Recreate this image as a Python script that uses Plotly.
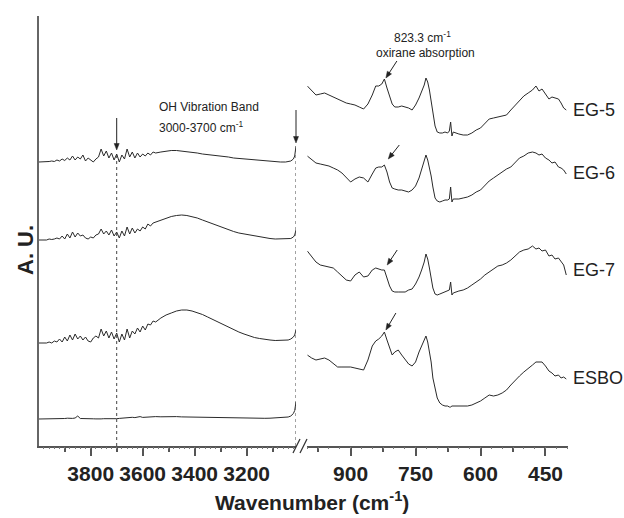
import math
import plotly.graph_objects as go

# ---------------- data ----------------
wn_left = [4000, 3990, 3980, 3970, 3960, 3950, 3940, 3930, 3920, 3910,
           3900, 3890, 3880, 3870, 3860, 3850, 3840, 3830, 3820, 3810,
           3800, 3790, 3780, 3770, 3760, 3750, 3740, 3730, 3720, 3710,
           3700, 3690, 3680, 3670, 3660, 3650, 3640, 3630, 3620, 3610,
           3600, 3590, 3580, 3570, 3560, 3550,
           3530, 3510, 3490, 3470, 3450, 3430, 3410, 3390, 3370, 3350,
           3330, 3310, 3290, 3270, 3250, 3230, 3210, 3190, 3170, 3150,
           3130, 3110, 3090, 3070, 3050, 3040, 3030, 3020, 3015, 3010]

eg5_left = [284, 284, 284.5, 284, 284.5, 285, 284.5, 286, 285, 287,
            285.5, 288, 286, 290, 286, 289, 287, 291, 285, 288,
            286, 284, 287, 289, 297, 290, 295, 288, 293, 286,
            292, 284, 291, 287, 297, 289, 294, 288, 293, 289,
            292, 290, 293, 291, 294, 293,
            294, 295, 295.5, 295.5, 295, 294.5, 294, 293, 292, 291.5,
            291, 290, 289.5, 289, 288, 287.5, 287, 286.5, 286, 285.5,
            285, 284.5, 284.5, 284, 284, 284.5, 285, 287, 290, 300]

eg6_left = [206, 206, 206.5, 206, 207, 206.5, 207, 208, 207, 210,
            207, 212, 208, 214, 209, 213, 210, 211, 208, 207,
            209, 208, 211, 212, 217, 212, 215, 211, 216, 210,
            214, 208, 215, 210, 219, 212, 218, 213, 217, 215,
            219, 217, 222, 220, 223, 224,
            226, 228, 229.5, 230.5, 231, 230.5, 229.5, 228, 226, 224,
            222, 220, 218, 216, 214.5, 213, 212, 211, 210, 209,
            208, 207.5, 207, 207, 207, 207, 207.5, 209, 211, 216]

eg7_left = [103, 103, 103.5, 103, 104, 103, 105, 104, 107, 104,
            109, 105, 111, 106, 112, 107, 110, 106, 109, 105,
            104, 108, 110, 108, 117, 110, 115, 108, 114, 107,
            113, 104, 112, 106, 117, 108, 115, 112, 118, 114,
            120, 116, 122, 121, 125, 124,
            128, 131, 133, 135, 136, 136, 135, 133.5, 131.5, 129,
            126.5, 124, 121, 118.5, 116, 114, 112, 110, 108.5, 107.5,
            106.5, 106, 105.5, 105.5, 106, 106, 107, 109, 111, 116]

esbo_left = [27, 27, 27.3, 27, 27.2, 27.5, 27, 27.3, 27.6, 27.2,
             27.5, 27.8, 27.4, 27.6, 28, 30, 27.5, 27.3, 27.1, 27.2,
             27, 27.2, 27.1, 26.9, 27.1, 27.3, 27.2, 27.4, 27.2, 27.5,
             27.3, 27.6, 27.9, 28.2, 27.9, 28.3, 28.7, 28.4, 28.8, 29.4,
             28.6, 28.9, 29.2, 28.8, 29.3, 29.4,
             29.2, 29.5, 29.6, 29.4, 29.1, 29.0, 28.8, 28.6, 28.4, 28.2,
             28.0, 27.9, 27.8, 27.7, 27.6, 27.5, 27.5, 27.5, 27.6, 27.6,
             27.7, 27.8, 28.0, 28.2, 28.6, 29, 30, 32.5, 35.5, 44]

wn_right = [1000, 990, 980, 970, 960, 950, 940, 930, 920, 910,
            900, 890, 880, 870, 860, 850, 842, 835, 828, 822,
            816, 810, 804, 798, 790, 782, 774, 766, 758, 750,
            742, 736, 730, 726, 722, 718, 714, 710, 705, 700,
            694, 688, 682, 676, 672, 669, 666, 663, 658, 650,
            640, 630, 620, 610, 600, 590, 580, 570, 560, 550,
            540, 530, 520, 510, 500, 490, 480, 472, 465, 458,
            450, 442, 435, 428, 420, 414, 408, 402]

eg5_right = [360, 355, 351, 352, 353, 351, 349, 347, 345, 343,
             342, 341, 339, 337, 342, 351, 360, 360, 362, 367,
             358, 349, 342, 339, 339, 340, 339, 338, 336, 341,
             348, 354, 361, 368, 364, 356, 346, 334, 320, 314,
             313, 313, 314, 313, 315, 324, 310, 314, 313, 312,
             311, 311, 313, 316, 318, 323, 327, 328, 329, 330,
             331, 336, 341, 346, 350, 353, 356, 360, 355, 357,
             352, 347, 349, 348, 347, 343, 338, 336]

eg6_right = [290, 286, 283, 282, 281, 280, 278, 276, 273, 268,
             264, 267, 269, 268, 264, 272, 278, 279, 279, 281,
             274, 264, 258, 257, 256, 256, 255, 254, 256, 260,
             268, 276, 284, 291, 286, 279, 270, 259, 248, 245,
             244, 245, 246, 246, 247, 259, 244, 247, 247, 247,
             248, 249, 251, 254, 256, 261, 265, 268, 271, 274,
             277, 279, 283, 288, 290, 293, 294, 293, 291, 292,
             288, 286, 283, 284, 279, 278, 276, 272]

eg7_right = [195, 189, 184, 181, 180, 179, 178, 174, 170, 166,
             165, 171, 174, 169, 170, 176, 178, 177, 176, 176,
             168, 160, 155, 154, 154, 154, 154, 156, 157, 162,
             169, 176, 184, 192, 187, 178, 168, 158, 152, 151,
             152, 153, 154, 155, 156, 164, 151, 153, 154, 155,
             156, 158, 161, 164, 167, 171, 174, 177, 180, 181,
             183, 186, 190, 194, 196, 197, 200, 197, 198, 195,
             196, 190, 191, 187, 188, 184, 181, 171]

esbo_right = [91, 88, 86, 87, 88, 86, 82, 79, 79, 79,
              79, 78, 77, 76, 86, 100, 105, 107, 110, 114,
              106, 98, 91, 94, 96, 91, 86, 82, 80, 84,
              94, 100, 105, 110, 104, 94, 84, 68, 56, 48,
              43, 41, 40, 40, 39, 39, 40, 40, 40, 40,
              40, 40, 41, 43, 45, 48, 51, 50, 51, 53,
              56, 61, 66, 70, 74, 78, 81, 84, 84, 84,
              80, 75, 73, 70, 71, 68, 69, 67]

series_names = ["EG-5", "EG-6", "EG-7", "ESBO"]
left_series = [eg5_left, eg6_left, eg7_left, esbo_left]
right_series = [eg5_right, eg6_right, eg7_right, esbo_right]
label_y = [336, 273, 176, 68]

left_ticks = [3800, 3600, 3400, 3200]
left_minor = [3900, 3700, 3500, 3300, 3100]
right_ticks = [900, 750, 600, 450]
right_minor = [975, 825, 675, 525]

# arrow tips (wavenumber, A.U.) and tail offsets in screen pixels
oh_arrows = [(3700, 296, 0, -32), (3010, 303, 0, -33)]
oxirane_arrows = [(818.5, 368, 11, -17), (813, 287, 11, -14),
                  (815.5, 181, 10, -15), (818.5, 116, 10, -17)]

# ---------------- layout geometry ----------------
W, H = 624, 518
ML, MR, MT, MB = 39, 56, 16, 72
PW, PH = W - ML - MR, H - MT - MB
Y_RANGE = [0, 430]


def px(x):
    return (x - ML) / PW


def py(y):
    return (H - MB - y) / PH


dom_left = [0, px(296)]
dom_right = [px(307.3), 1]
rng_left = [3999, 3010]
rng_right = [1000, 398]


def data_to_screen(xv, yv, dom, rng):
    xp = dom[0] + (xv - rng[0]) / (rng[1] - rng[0]) * (dom[1] - dom[0])
    yp = (yv - Y_RANGE[0]) / (Y_RANGE[1] - Y_RANGE[0])
    return ML + xp * PW, H - MB - yp * PH


FONT = "Liberation Sans, Arial, sans-serif"
LINE = "#2a2a2a"
AXC = "#555555"

fig = go.Figure()
for name, ys in zip(series_names, left_series):
    fig.add_trace(go.Scatter(x=wn_left, y=ys, mode="lines", xaxis="x", yaxis="y",
                             line=dict(color=LINE, width=1), name=name, showlegend=False,
                             hoverinfo="skip"))
for name, ys in zip(series_names, right_series):
    fig.add_trace(go.Scatter(x=wn_right, y=ys, mode="lines", xaxis="x2", yaxis="y",
                             line=dict(color=LINE, width=1), name=name, showlegend=False,
                             hoverinfo="skip"))
# empty traces to activate the tiny-tick overlay axes
fig.add_trace(go.Scatter(x=[], y=[], xaxis="x3", yaxis="y", showlegend=False))
fig.add_trace(go.Scatter(x=[], y=[], xaxis="x4", yaxis="y", showlegend=False))

tickfont = dict(family=FONT, size=21, color="#222222", weight="bold")

fig.update_layout(
    width=W, height=H,
    margin=dict(l=ML, r=MR, t=MT, b=MB),
    paper_bgcolor="white", plot_bgcolor="white",
    showlegend=False,
    xaxis=dict(domain=dom_left, range=rng_left, anchor="y", showgrid=False, zeroline=False,
               showline=True, linecolor=AXC, linewidth=1.5,
               tickmode="array", tickvals=left_ticks, ticks="outside", ticklen=8,
               tickwidth=1.5, tickcolor=AXC, tickfont=tickfont,
               minor=dict(tickmode="array", tickvals=left_minor, ticks="outside",
                          ticklen=4, tickwidth=1.5, tickcolor=AXC)),
    xaxis2=dict(domain=dom_right, range=rng_right, anchor="y", showgrid=False, zeroline=False,
                showline=True, linecolor=AXC, linewidth=1.5,
                tickmode="array", tickvals=right_ticks, ticks="outside", ticklen=8,
                tickwidth=1.5, tickcolor=AXC, tickfont=tickfont,
                minor=dict(tickmode="array", tickvals=right_minor, ticks="outside",
                           ticklen=4, tickwidth=1.5, tickcolor=AXC)),
    xaxis3=dict(overlaying="x", domain=dom_left, range=rng_left, anchor="y", showgrid=False,
                zeroline=False, showline=False, showticklabels=False,
                tickmode="linear", tick0=4000, dtick=20, ticks="outside", ticklen=2,
                tickwidth=1, tickcolor="#777777"),
    xaxis4=dict(overlaying="x2", domain=dom_right, range=rng_right, anchor="y", showgrid=False,
                zeroline=False, showline=False, showticklabels=False,
                tickmode="linear", tick0=1000, dtick=25, ticks="outside", ticklen=2,
                tickwidth=1, tickcolor="#777777"),
    yaxis=dict(domain=[0, 1], range=Y_RANGE, showgrid=False, zeroline=False,
               showline=True, linecolor="#666666", linewidth=2, showticklabels=False,
               ticks=""),
)

annotations = []
for name, yv in zip(series_names, label_y):
    annotations.append(dict(xref="paper", yref="y", x=px(571), y=yv, text=name,
                            showarrow=False, xanchor="left", yanchor="middle",
                            font=dict(family=FONT, size=18, color="#222222")))
annotations.append(dict(xref="paper", yref="paper", x=px(311.5), y=py(501),
                        text="Wavenumber (cm<sup>-1</sup>)", showarrow=False,
                        xanchor="center", yanchor="middle",
                        font=dict(family=FONT, size=21, color="#222222", weight="bold")))
annotations.append(dict(xref="paper", yref="paper", x=px(25), y=py(250), text="A. U.",
                        textangle=-90, showarrow=False, xanchor="center", yanchor="middle",
                        font=dict(family=FONT, size=22, color="#222222", weight="bold")))
annotations.append(dict(xref="x", yref="y", x=3546, y=339, text="OH Vibration Band",
                        showarrow=False, xanchor="left", yanchor="middle",
                        font=dict(family=FONT, size=12, color="#222222")))
annotations.append(dict(xref="x", yref="y", x=3546, y=319, text="3000-3700 cm<sup>-1</sup>",
                        showarrow=False, xanchor="left", yanchor="middle",
                        font=dict(family=FONT, size=12, color="#222222")))
annotations.append(dict(xref="x2", yref="y", x=733, y=409, text="823.3 cm<sup>-1</sup>",
                        showarrow=False, xanchor="center", yanchor="middle",
                        font=dict(family=FONT, size=12, color="#222222")))
annotations.append(dict(xref="x2", yref="y", x=728, y=393, text="oxirane absorption",
                        showarrow=False, xanchor="center", yanchor="middle",
                        font=dict(family=FONT, size=12, color="#222222")))
fig.update_layout(annotations=annotations)

shapes = []
# dotted vertical lines
shapes.append(dict(type="line", xref="x", yref="y", x0=3700, x1=3700, y0=0, y1=293,
                   line=dict(color="#444444", width=1, dash="dot")))
shapes.append(dict(type="line", xref="x", yref="y", x0=3010, x1=3010, y0=0, y1=300,
                   line=dict(color="#444444", width=1, dash="dot")))
# axis break marks
for x0 in (293, 300):
    shapes.append(dict(type="line", xref="paper", yref="paper",
                       x0=px(x0), y0=py(453), x1=px(x0 + 7), y1=py(439),
                       line=dict(color="#333333", width=1.2)))


def add_arrow(tip_sx, tip_sy, ax, ay, head_len=6.5, head_w=5.0):
    tail_sx, tail_sy = tip_sx + ax, tip_sy + ay
    dx, dy = tip_sx - tail_sx, tip_sy - tail_sy
    ln = math.hypot(dx, dy)
    ux, uy = dx / ln, dy / ln
    bx, by = tip_sx - ux * head_len, tip_sy - uy * head_len
    nx, ny = -uy, ux
    shapes.append(dict(type="line", xref="paper", yref="paper",
                       x0=px(tail_sx), y0=py(tail_sy), x1=px(bx + ux), y1=py(by + uy),
                       line=dict(color="#222222", width=1)))
    c1 = (bx + nx * head_w / 2, by + ny * head_w / 2)
    c2 = (bx - nx * head_w / 2, by - ny * head_w / 2)
    path = "M {:.5f} {:.5f} L {:.5f} {:.5f} L {:.5f} {:.5f} Z".format(
        px(tip_sx), py(tip_sy), px(c1[0]), py(c1[1]), px(c2[0]), py(c2[1]))
    shapes.append(dict(type="path", xref="paper", yref="paper", path=path,
                       fillcolor="#222222", line=dict(color="#222222", width=0.5)))


for xv, yv, ax, ay in oh_arrows:
    sx, sy = data_to_screen(xv, yv, dom_left, rng_left)
    add_arrow(sx, sy, ax, ay)
for xv, yv, ax, ay in oxirane_arrows:
    sx, sy = data_to_screen(xv, yv, dom_right, rng_right)
    add_arrow(sx, sy, ax, ay)

fig.update_layout(shapes=shapes)

fig.write_html("out.html")
